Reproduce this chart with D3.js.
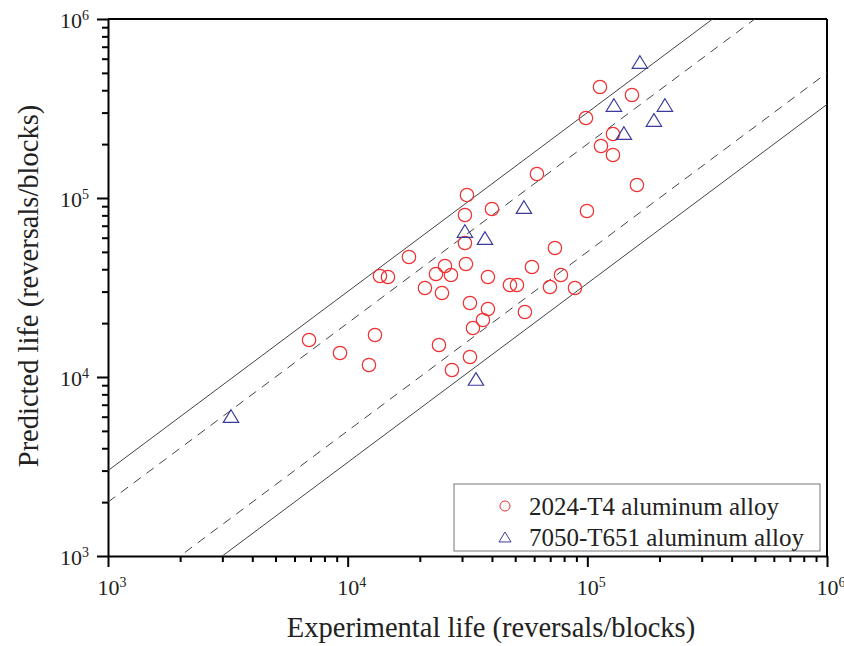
<!DOCTYPE html>
<html>
<head>
<meta charset="utf-8">
<script src="https://cdn.jsdelivr.net/npm/d3@7"></script>
<style>
  body { margin: 0; background: #fff; }
</style>
</head>
<body>
<div id="chart"></div>
<script>
// 2024-T4 aluminum alloy: experimental vs predicted life
var alu2024Exp = [6900, 9290, 12270, 13000, 13640, 14730, 18020, 21010, 23360, 24740,
  24040, 25470, 26980, 27230, 30850, 30850, 31150, 31450, 32380, 32380,
  33320, 36680, 38480, 38480, 39990, 47540, 50850, 54900, 58730, 61620,
  69830, 73240, 77600, 88780, 99620, 98670, 112900, 153500, 127900, 114000,
  127900, 161000];
var alu2024Pred = [16100, 13620, 11670, 17160, 36660, 36200, 46820, 31420, 37620, 29460,
  15090, 41700, 37140, 10940, 56050, 80350, 42780, 103900, 25910, 12930,
  18780, 20820, 23980, 36200, 86800, 32660, 32660, 23070, 41170, 136200,
  31830, 52560, 37140, 31420, 84600, 279900, 417100, 376200, 227800, 195200,
  173900, 118200];

// 7050-T651 aluminum alloy
var alu7050Exp = [3260, 30850, 37400, 54380, 34300, 165700, 129100, 210700, 189600, 142100];
var alu7050Pred = [6050, 65400, 59760, 89050, 9750, 575200, 330800, 330800, 272800, 230700];

// scatter bands: predicted = factor * experimental
var bandFactors = [3, 2, 1 / 2, 1 / 3];
var bandDashed = [false, true, true, false];

var decades = [1e3, 1e4, 1e5, 1e6];
var seriesNames = ["2024-T4 aluminum alloy", "7050-T651 aluminum alloy"];

var width = 844, height = 646;
var margin = {top: 19, right: 17, bottom: 90, left: 108};
var w = width - margin.left - margin.right;
var h = height - margin.top - margin.bottom;
var serif = "'Liberation Serif', 'Times New Roman', serif";

var svg = d3.select("#chart")
  .append("svg")
  .attr("width", width)
  .attr("height", height)
  .style("font-family", serif);

var x = d3.scaleLog().domain([1e3, 1e6]).range([0, w]);
var y = d3.scaleLog().domain([1e3, 1e6]).range([h, 0]);

var g = svg.append("g")
  .attr("transform", "translate(" + margin.left + "," + margin.top + ")");

g.append("clipPath")
  .attr("id", "plotclip")
  .append("rect")
  .attr("width", w)
  .attr("height", h);

// all ticks 1..9 per decade
var allTicks = [];
decades.slice(0, 3).forEach(function(d) {
  for (var i = 1; i < 10; i++) allTicks.push(d * i);
});
allTicks.push(1e6);
function isMajor(v) { return decades.indexOf(v) >= 0; }

// bottom axis
var xAxis = g.append("g")
  .attr("transform", "translate(0," + h + ")")
  .call(d3.axisBottom(x).tickValues(allTicks).tickSizeOuter(0).tickFormat(""));
xAxis.selectAll(".tick line")
  .attr("y2", function(d) { return isMajor(d) ? 11 : 6; })
  .attr("stroke-width", 2);
xAxis.select(".domain").attr("stroke-width", 2);

// left axis
var yAxis = g.append("g")
  .call(d3.axisLeft(y).tickValues(allTicks).tickSizeOuter(0).tickFormat(""));
yAxis.selectAll(".tick line")
  .attr("x2", function(d) { return isMajor(d) ? -11 : -6; })
  .attr("stroke-width", 2);
yAxis.select(".domain").attr("stroke-width", 2);

// top and right frame
g.append("line").attr("x1", 0).attr("x2", w).attr("y1", 0).attr("y2", 0)
  .attr("stroke", "#000").attr("stroke-width", 2);
g.append("line").attr("x1", w).attr("x2", w).attr("y1", 0).attr("y2", h)
  .attr("stroke", "#000").attr("stroke-width", 2);

// tick labels 10^n
function powerLabel(sel) {
  sel.append("tspan").text("10");
  sel.append("tspan")
    .attr("dy", "-0.55em")
    .style("font-size", "14px")
    .text(function(d) { return Math.round(Math.log10(d)); });
}

g.selectAll(".xlab")
  .data(decades)
  .enter().append("text")
  .attr("class", "xlab")
  .attr("x", function(d) { return x(d) + 4; })
  .attr("y", h + 39)
  .attr("text-anchor", "middle")
  .attr("fill", "#222")
  .style("font-size", "22px")
  .call(powerLabel);

g.selectAll(".ylab")
  .data(decades)
  .enter().append("text")
  .attr("class", "ylab")
  .attr("x", -19)
  .attr("y", function(d) { return y(d) + 9; })
  .attr("text-anchor", "end")
  .attr("fill", "#222")
  .style("font-size", "22px")
  .call(powerLabel);

// factor bands
var plot = g.append("g").attr("clip-path", "url(#plotclip)");
plot.selectAll(".band")
  .data(bandFactors)
  .enter().append("line")
  .attr("class", "band")
  .attr("x1", x(1e3))
  .attr("y1", function(k) { return y(1e3 * k); })
  .attr("x2", x(1e6))
  .attr("y2", function(k) { return y(1e6 * k); })
  .attr("stroke", "#444")
  .attr("stroke-width", 1)
  .attr("stroke-dasharray", function(k, i) { return bandDashed[i] ? "9,7" : null; });

var circColor = "#f03030", triColor = "#3b3b9c";
function triPath(s) {
  return "M0," + (-s * 0.45) + "L" + (s * 0.55) + "," + (s * 0.45) +
    "L" + (-s * 0.55) + "," + (s * 0.45) + "Z";
}

// points
plot.selectAll(".c2024")
  .data(d3.range(alu2024Exp.length))
  .enter().append("circle")
  .attr("class", "c2024")
  .attr("cx", function(i) { return x(alu2024Exp[i]); })
  .attr("cy", function(i) { return y(alu2024Pred[i]); })
  .attr("r", 6.7)
  .attr("fill", "none")
  .attr("stroke", circColor)
  .attr("stroke-width", 1.2);

plot.selectAll(".t7050")
  .data(d3.range(alu7050Exp.length))
  .enter().append("path")
  .attr("class", "t7050")
  .attr("transform", function(i) {
    return "translate(" + x(alu7050Exp[i]) + "," + y(alu7050Pred[i]) + ")";
  })
  .attr("d", triPath(14))
  .attr("fill", "none")
  .attr("stroke", triColor)
  .attr("stroke-width", 1.2);

// legend
var legend = svg.append("g").attr("transform", "translate(454,484)");
legend.append("rect")
  .attr("width", 366)
  .attr("height", 67)
  .attr("fill", "#fff")
  .attr("stroke", "#777")
  .attr("stroke-width", 1);
legend.append("circle")
  .attr("cx", 51).attr("cy", 22).attr("r", 5)
  .attr("fill", "none").attr("stroke", circColor).attr("stroke-width", 1);
legend.append("path")
  .attr("transform", "translate(51,53)")
  .attr("d", triPath(11))
  .attr("fill", "none").attr("stroke", triColor).attr("stroke-width", 1);
legend.selectAll(".ltext")
  .data(seriesNames)
  .enter().append("text")
  .attr("class", "ltext")
  .attr("x", 75)
  .attr("y", function(d, i) { return 22 + i * 31; })
  .attr("dy", "0.35em")
  .attr("fill", "#222")
  .style("font-size", "25px")
  .text(function(d) { return d; });

// axis titles
svg.append("text")
  .attr("x", 491)
  .attr("y", 637)
  .attr("text-anchor", "middle")
  .attr("fill", "#222")
  .style("font-size", "28.5px")
  .text("Experimental life (reversals/blocks)");

svg.append("text")
  .attr("transform", "translate(38,286) rotate(-90)")
  .attr("text-anchor", "middle")
  .attr("fill", "#222")
  .style("font-size", "28.5px")
  .text("Predicted life (reversals/blocks)");
</script>
</body>
</html>
